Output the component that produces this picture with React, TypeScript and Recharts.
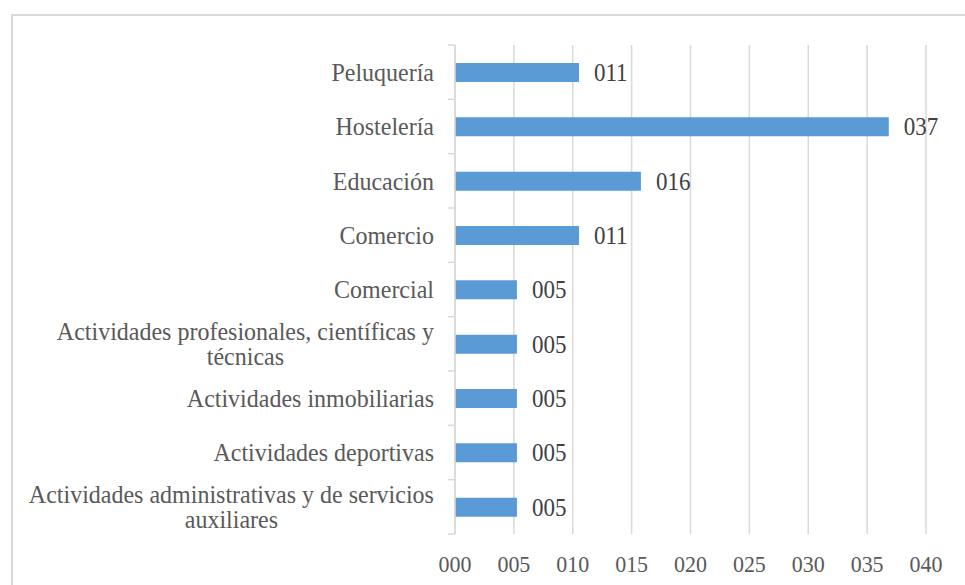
import React from "react";
import { BarChart, Bar, XAxis, YAxis, CartesianGrid, LabelList } from "recharts";

const categories = [
  "Peluquería",
  "Hostelería",
  "Educación",
  "Comercio",
  "Comercial",
  "Actividades profesionales, científicas y técnicas",
  "Actividades inmobiliarias",
  "Actividades deportivas",
  "Actividades administrativas y de servicios auxiliares",
];
const values = [10.53, 36.84, 15.79, 10.53, 5.26, 5.26, 5.26, 5.26, 5.26];
const xTicks = [0, 5, 10, 15, 20, 25, 30, 35, 40];

const data = categories.map((name, i) => ({ name, value: values[i] }));

const FONT = '"Liberation Serif", "Times New Roman", serif';
const CAT_SIZE = 24;
const TICK_SIZE = 22;
const LABEL_SIZE = 23;
const WRAP_WIDTH = 420;
const LINE_H = 25.5;
const VSTRETCH = 1.08;
const CAT_MARGIN = 21;
const TICK_LEN = 7;
const GRID = "#d9d9d9";

let ctx: CanvasRenderingContext2D | null = null;
function measure(text: string, size: number): number {
  if (!ctx) {
    const c = document.createElement("canvas");
    ctx = c.getContext("2d");
  }
  if (!ctx) return text.length * size * 0.45;
  ctx.font = `${size}px "Liberation Serif"`;
  return ctx.measureText(text).width;
}

function wrap(text: string, size: number, maxW: number): string[] {
  const words = text.split(" ");
  const lines: string[] = [];
  let cur = "";
  for (const w of words) {
    const test = cur ? cur + " " + w : w;
    if (cur && measure(test, size) > maxW) {
      lines.push(cur);
      cur = w;
    } else {
      cur = test;
    }
  }
  if (cur) lines.push(cur);
  return lines;
}

const pad3 = (v: number) => String(Math.round(v)).padStart(3, "0");

const StretchText = ({ x, y, anchor, size, fill, children }: any) => (
  <text
    transform={`translate(${x},${y}) scale(1,${VSTRETCH})`}
    x={0}
    y={0}
    textAnchor={anchor}
    fill={fill}
    fontFamily={FONT}
    fontSize={size}
  >
    {children}
  </text>
);

const CategoryTick = (props: any) => {
  const { x, y, payload, height, visibleTicksCount, index } = props;
  const lines = wrap(String(payload.value), CAT_SIZE, WRAP_WIDTH);
  const base = CAT_SIZE * 0.34 * VSTRETCH;
  const axisX = x + CAT_MARGIN;
  const band = height && visibleTicksCount ? height / visibleTicksCount : 0;
  const marks: number[] = band ? [y - band / 2] : [];
  if (band && index === visibleTicksCount - 1) marks.push(y + band / 2);
  const tickMarks = marks.map((my, i) => (
    <line key={`m${i}`} x1={axisX - TICK_LEN} x2={axisX} y1={my} y2={my} stroke={GRID} strokeWidth={1.5} />
  ));
  if (lines.length === 1) {
    return (
      <g>
        {tickMarks}
        <StretchText x={x} y={y + base} anchor="end" size={CAT_SIZE} fill="#595959">
          {lines[0]}
        </StretchText>
      </g>
    );
  }
  const maxW = Math.max(...lines.map((l) => measure(l, CAT_SIZE)));
  const cx = x - maxW / 2;
  return (
    <g>
      {tickMarks}
      {lines.map((l, i) => (
        <StretchText
          key={i}
          x={cx}
          y={y + base + (i - (lines.length - 1) / 2) * LINE_H}
          anchor="middle"
          size={CAT_SIZE}
          fill="#595959"
        >
          {l}
        </StretchText>
      ))}
    </g>
  );
};

const XTick = (props: any) => {
  const { x, y, payload } = props;
  return (
    <StretchText x={x} y={y + 37.5} anchor="middle" size={TICK_SIZE} fill="#595959">
      {pad3(payload.value)}
    </StretchText>
  );
};

const ValueLabel = (props: any) => {
  const { x, y, width, height, value } = props;
  return (
    <StretchText
      x={x + width + 15}
      y={y + height / 2 + LABEL_SIZE * 0.34 * VSTRETCH}
      anchor="start"
      size={LABEL_SIZE}
      fill="#404040"
    >
      {pad3(Number(value))}
    </StretchText>
  );
};

export default function App() {
  return (
    <div
      style={{
        position: "absolute",
        left: 0,
        top: 0,
        width: 965,
        height: 585,
        overflow: "hidden",
        background: "#ffffff",
      }}
    >
      <div
        style={{
          position: "absolute",
          left: 11,
          top: 14,
          width: 1200,
          height: 1200,
          border: "2px solid #d9d9d9",
          boxSizing: "border-box",
        }}
      />
      <div style={{ position: "absolute", left: 0, top: 0 }}>
        <BarChart
          width={965}
          height={585}
          data={data}
          layout="vertical"
          margin={{ top: 45, right: 39, bottom: 21, left: 0 }}
          barSize={19}
        >
          <CartesianGrid horizontal={false} vertical={true} stroke={GRID} strokeWidth={1.5} />
          <XAxis
            type="number"
            domain={[0, 40]}
            ticks={xTicks}
            axisLine={false}
            tickLine={false}
            tickSize={0}
            tickMargin={0}
            height={30}
            tick={<XTick />}
            interval={0}
          />
          <YAxis
            type="category"
            dataKey="name"
            width={455}
            axisLine={{ stroke: GRID, strokeWidth: 1.5 }}
            tickLine={false}
            tickSize={0}
            tickMargin={CAT_MARGIN}
            tick={<CategoryTick />}
            interval={0}
          />
          <Bar dataKey="value" fill="#5b9bd5" isAnimationActive={false}>
            <LabelList dataKey="value" content={<ValueLabel />} />
          </Bar>
        </BarChart>
      </div>
    </div>
  );
}
